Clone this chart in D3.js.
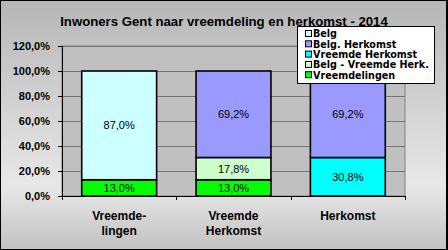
<!DOCTYPE html>
<html>
<head>
<meta charset="utf-8">
<script src="https://cdn.jsdelivr.net/npm/d3@7"></script>
<style>
  body { margin: 0; padding: 0; }
  svg { display: block; }
</style>
</head>
<body>
<svg id="chart"></svg>
<script>
// chart data
var categories = ["Vreemdelingen", "Vreemde Herkomst", "Herkomst"];
var categoryLabels = [["Vreemde-", "lingen"], ["Vreemde", "Herkomst"], ["Herkomst"]];
// stacked bottom -> top
var seriesNames = ["Vreemdelingen", "Belg - Vreemde Herk.", "Vreemde Herkomst", "Belg. Herkomst", "Belg"];
var seriesColors = ["#00ff00", "#ccffcc", "#00ffff", "#9999ff", "#ccffff"];
var vreemdelingen = [13.0, 13.0, 0];
var belgVreemdeHerk = [0, 17.8, 0];
var vreemdeHerkomst = [0, 0, 30.8];
var belgHerkomst = [0, 69.2, 69.2];
var belg = [87.0, 0, 0];
var legendOrder = ["Belg", "Belg. Herkomst", "Vreemde Herkomst", "Belg - Vreemde Herk.", "Vreemdelingen"];
var yTicks = [0, 20, 40, 60, 80, 100, 120];

var width = 448, height = 250;
var margin = {top: 46, right: 43, bottom: 54, left: 62};
var font = "Liberation Sans, Arial, sans-serif";

var svg = d3.select("#chart").attr("width", width).attr("height", height);

// background gradient
var defs = svg.append("defs");
var grad = defs.append("linearGradient").attr("id", "bg")
    .attr("x1", 0).attr("x2", 0).attr("y1", 0).attr("y2", 1);
grad.append("stop").attr("offset", "0%").attr("stop-color", "#b6b6b6");
grad.append("stop").attr("offset", "74%").attr("stop-color", "#e8e8e8");
grad.append("stop").attr("offset", "100%").attr("stop-color", "#c2c2c2");

svg.append("rect").attr("x", 0.5).attr("y", 0.5)
    .attr("width", width - 2).attr("height", height - 1)
    .attr("fill", "url(#bg)").attr("stroke", "#000");
svg.append("line").attr("x1", width - 0.5).attr("x2", width - 0.5)
    .attr("y1", 0).attr("y2", height).attr("stroke", "#000");

// title
svg.append("text")
    .attr("x", 224).attr("y", 25.5)
    .attr("text-anchor", "middle")
    .attr("font-family", font)
    .attr("font-weight", "bold").attr("font-size", 13.2)
    .text("Inwoners Gent naar vreemdeling en herkomst - 2014");

var x0 = margin.left, x1 = width - margin.right;
var y0 = height - margin.bottom, y1 = margin.top;

var x = d3.scaleBand().domain(categories).range([x0, x1])
    .paddingInner(0.345).paddingOuter(0.1725);
var y = d3.scaleLinear().domain([0, 120]).range([y0, y1]);

// plot area
svg.append("rect").attr("x", x0).attr("y", y1)
    .attr("width", x1 - x0).attr("height", y0 - y1)
    .attr("fill", "#c0c0c0").attr("stroke", "#808080");

// gridlines
svg.append("g").selectAll("line")
    .data(yTicks.filter(d => d > 0))
    .enter().append("line")
    .attr("x1", x0).attr("x2", x1)
    .attr("y1", d => Math.round(y(d)) + 0.5).attr("y2", d => Math.round(y(d)) + 0.5)
    .attr("stroke", "#767676");

// stack
var table = categories.map((c, i) => ({
    cat: c,
    "Vreemdelingen": vreemdelingen[i],
    "Belg - Vreemde Herk.": belgVreemdeHerk[i],
    "Vreemde Herkomst": vreemdeHerkomst[i],
    "Belg. Herkomst": belgHerkomst[i],
    "Belg": belg[i]
}));
var stacked = d3.stack().keys(seriesNames)(table);
var color = d3.scaleOrdinal().domain(seriesNames).range(seriesColors);

var segs = [];
stacked.forEach(s => s.forEach(d => {
    if (d[1] - d[0] > 0) segs.push({key: s.key, cat: d.data.cat, lo: d[0], hi: d[1]});
}));

svg.append("g").selectAll("rect")
    .data(segs)
    .enter().append("rect")
    .attr("x", d => x(d.cat))
    .attr("y", d => y(d.hi))
    .attr("width", x.bandwidth())
    .attr("height", d => y(d.lo) - y(d.hi))
    .attr("fill", d => color(d.key))
    .attr("stroke", "#000").attr("stroke-width", 1.6);

// value labels
var fmt = v => v.toFixed(1).replace(".", ",") + "%";
svg.append("g").selectAll("text")
    .data(segs)
    .enter().append("text")
    .attr("x", d => x(d.cat) + x.bandwidth() / 2)
    .attr("y", d => y((d.lo + d.hi) / 2))
    .attr("dy", "0.36em")
    .attr("text-anchor", "middle")
    .attr("font-family", font)
    .attr("font-size", 11)
    .text(d => fmt(d.hi - d.lo));

// y axis
var gy = svg.append("g");
gy.append("line").attr("x1", x0 + 0.5).attr("x2", x0 + 0.5)
    .attr("y1", y1).attr("y2", y0 + 0.5).attr("stroke", "#000");
gy.selectAll("line.tick").data(yTicks).enter().append("line")
    .attr("class", "tick")
    .attr("x1", x0 - 4).attr("x2", x0)
    .attr("y1", d => Math.round(y(d)) + 0.5).attr("y2", d => Math.round(y(d)) + 0.5)
    .attr("stroke", "#000");
gy.selectAll("text").data(yTicks).enter().append("text")
    .attr("x", x0 - 12).attr("y", d => y(d))
    .attr("dy", "0.36em")
    .attr("text-anchor", "end")
    .attr("font-family", font)
    .attr("font-weight", "bold").attr("font-size", 11)
    .text(d => d.toFixed(1).replace(".", ",") + "%");

// x axis
var gx = svg.append("g");
gx.append("line").attr("x1", x0).attr("x2", x1)
    .attr("y1", y0 + 0.5).attr("y2", y0 + 0.5).attr("stroke", "#000");
var bounds = [x0].concat(categories.map(c => x(c) + x.bandwidth() + x.step() * x.paddingInner() / 2));
gx.selectAll("line.tick").data(bounds).enter().append("line")
    .attr("class", "tick")
    .attr("x1", d => Math.round(d) + 0.5).attr("x2", d => Math.round(d) + 0.5)
    .attr("y1", y0).attr("y2", y0 + 4)
    .attr("stroke", "#000");
gx.selectAll("text").data(categories).enter().append("text")
    .attr("x", d => x(d) + x.bandwidth() / 2)
    .attr("y", 219.5)
    .attr("text-anchor", "middle")
    .attr("font-family", font)
    .attr("font-weight", "bold").attr("font-size", 12)
    .each(function(d, i) {
        var t = d3.select(this);
        categoryLabels[i].forEach((line, j) => {
            t.append("tspan").attr("x", x(d) + x.bandwidth() / 2)
                .attr("dy", j === 0 ? 0 : 15).text(line);
        });
    });

// legend
var lg = svg.append("g");
lg.append("rect").attr("x", 297.5).attr("y", 26.5)
    .attr("width", 137).attr("height", 57)
    .attr("fill", "#fff").attr("stroke", "#000");
var rows = lg.selectAll("g").data(legendOrder).enter().append("g")
    .attr("transform", (d, i) => "translate(305," + (34 + i * 10.3) + ")");
rows.append("rect").attr("x", 0.5).attr("y", -3.5)
    .attr("width", 6).attr("height", 6)
    .attr("fill", d => color(d)).attr("stroke", "#000");
rows.append("text").attr("x", 8).attr("y", 0).attr("dy", "0.36em")
    .attr("font-family", "DejaVu Sans, Verdana, sans-serif")
    .attr("font-weight", "bold").attr("font-size", 9.6)
    .text(d => d);
</script>
</body>
</html>
